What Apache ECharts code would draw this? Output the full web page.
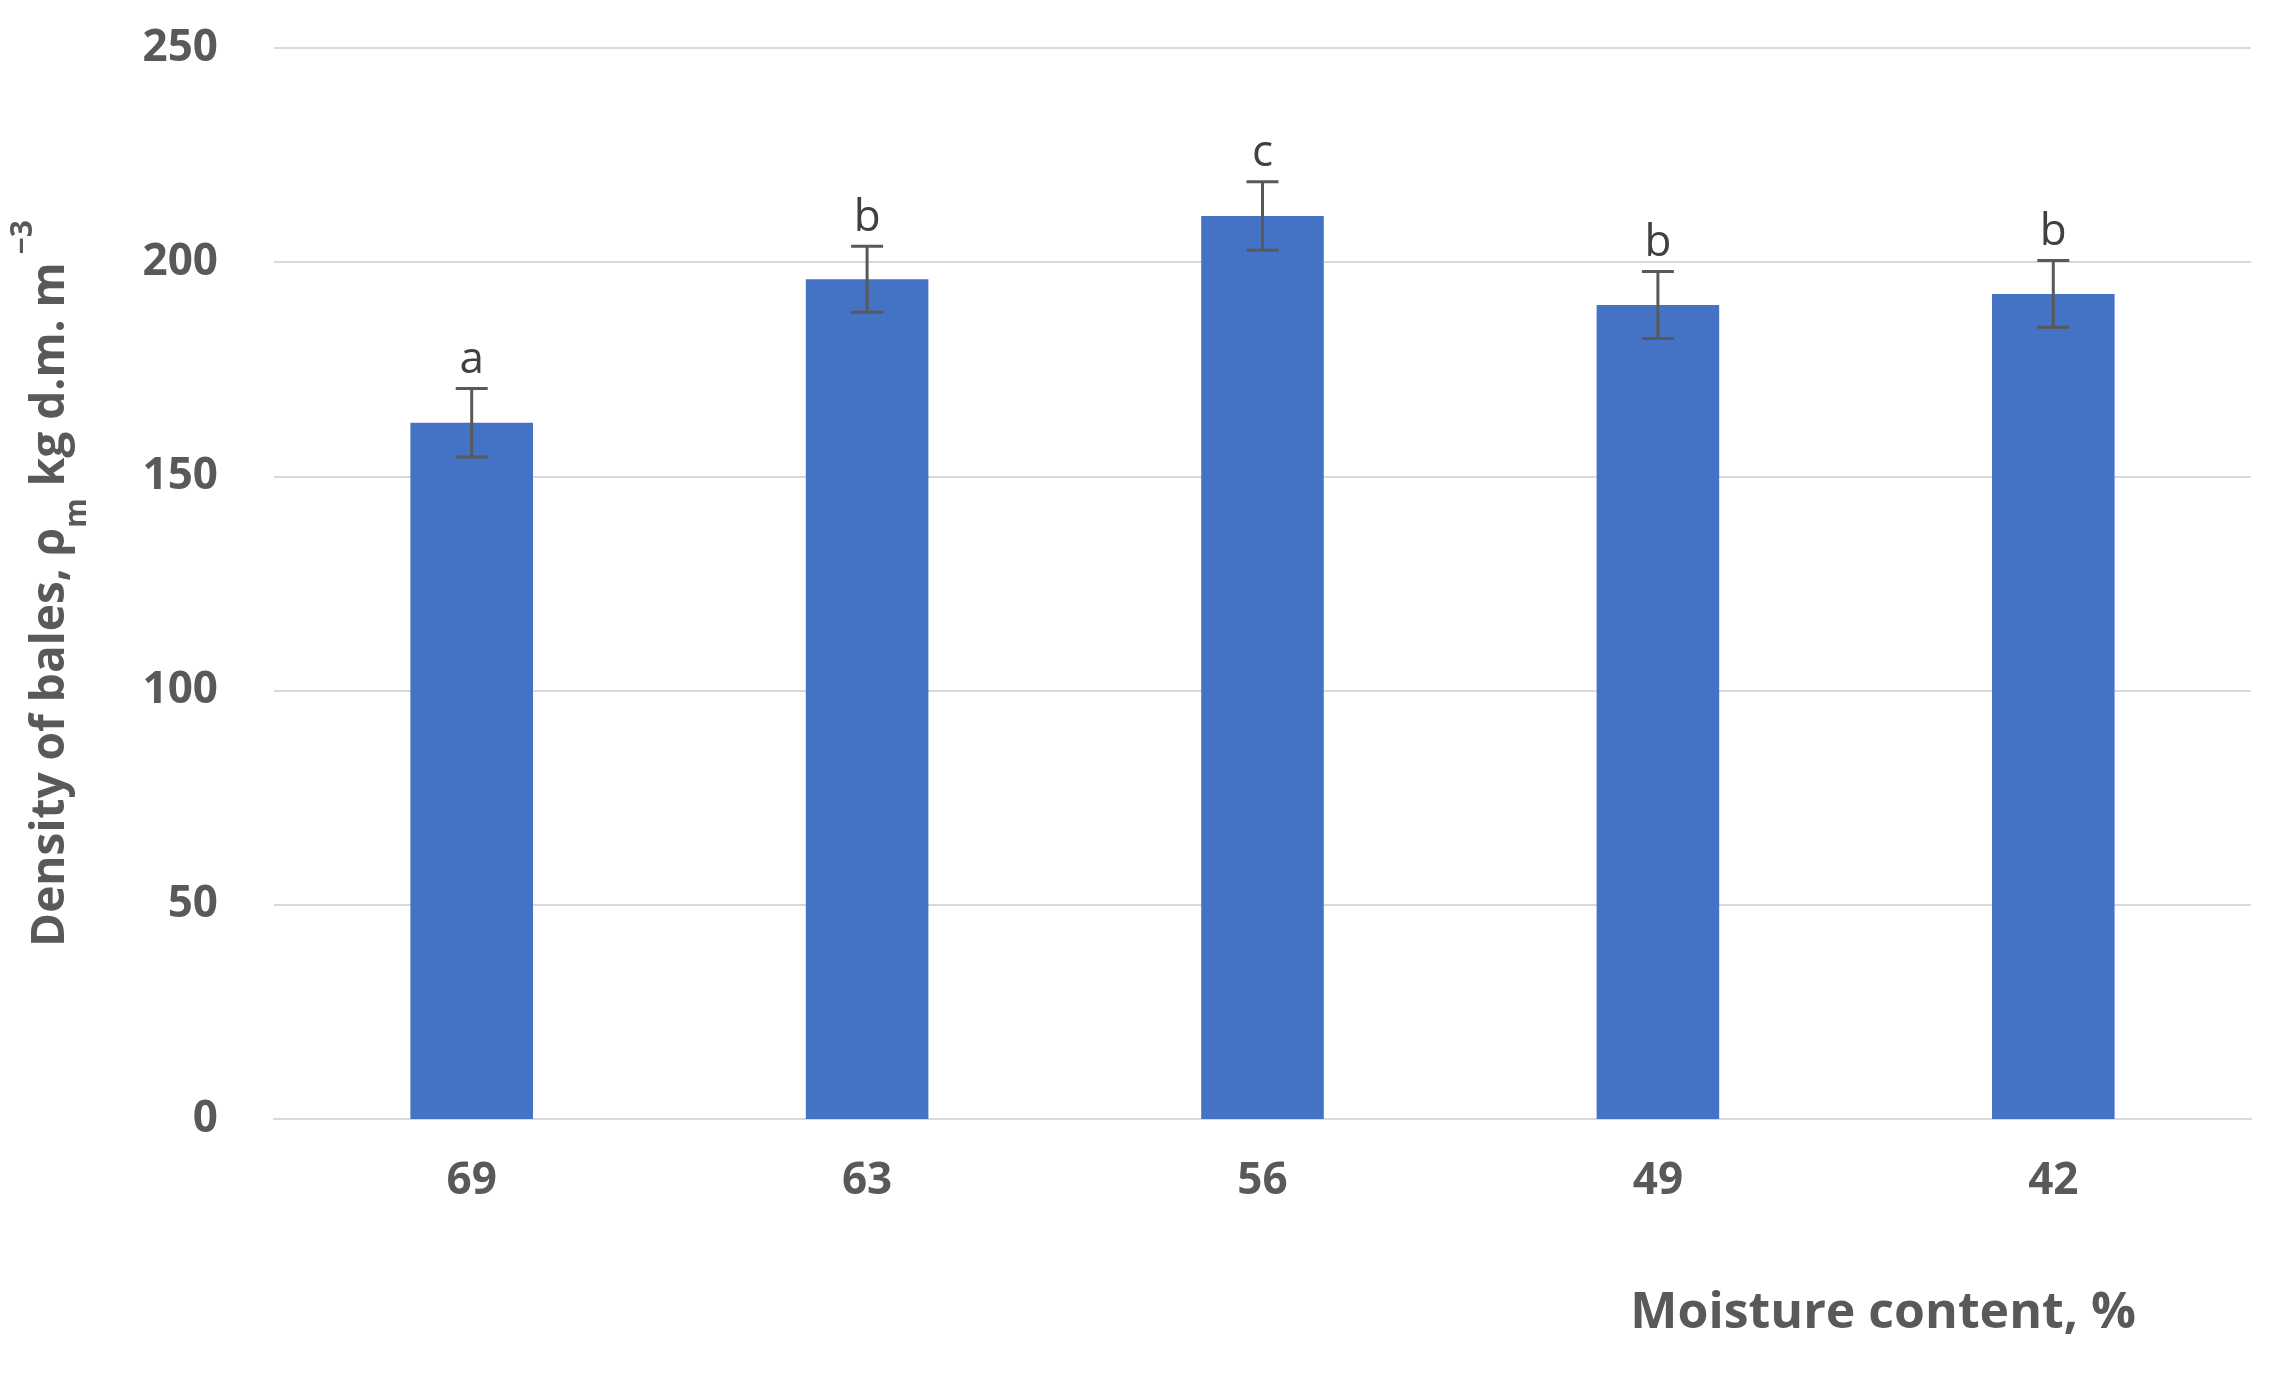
<!DOCTYPE html>
<html><head><meta charset="utf-8">
<script src="https://cdn.jsdelivr.net/npm/echarts@6/dist/echarts.min.js"></script>
<style>html,body{margin:0;padding:0;background:#fff}#c{width:2270px;height:1378px}</style>
</head><body><div id="c"></div>
<script>
const categories = ['69','63','56','49','42'];
const density = [162.5, 196, 210.8, 190, 192.6];
const errors = [8, 7.7, 8, 7.8, 7.8];
const letters = ['a','b','c','b','b'];
const yTicks = [0,50,100,150,200,250];

const chart = echarts.init(document.getElementById('c'));
const grey = '#595959';
chart.setOption({
  animation:false,
  grid:{left:261,right:19,top:48,bottom:259},
  xAxis:{type:'category',data:categories,
    axisLine:{lineStyle:{color:'#d9d9d9',width:2}},axisTick:{show:false},
    axisLabel:{color:grey,fontWeight:'bold',fontSize:44,fontFamily:'Open Sans',margin:40},
    name:'Moisture content, %',nameLocation:'end',
    nameTextStyle:{color:grey,fontWeight:'bold',fontSize:50,fontFamily:'Open Sans',align:'right',verticalAlign:'top',padding:[170,130,0,0]}},
  yAxis:{type:'value',min:yTicks[0],max:yTicks[yTicks.length-1],interval:50,
    splitLine:{lineStyle:{color:'#d9d9d9',width:2}},axisLine:{show:false},axisTick:{show:false},
    axisLabel:{color:grey,fontWeight:'bold',fontSize:44,fontFamily:'Open Sans',margin:56},
    name:'{t|Density of bales, ρ}{s|m}{t| kg d.m. m}{p| −3}',nameLocation:'middle',nameRotate:90,nameGap:200,
    nameTextStyle:{rich:{
      t:{color:grey,fontWeight:'bold',fontSize:46,fontFamily:'Open Sans'},
      s:{color:grey,fontWeight:'bold',fontSize:30,fontFamily:'Open Sans',verticalAlign:'bottom',padding:[0,0,-18,0]},
      p:{color:grey,fontWeight:'bold',fontSize:30,fontFamily:'Open Sans',verticalAlign:'top',padding:[-20,0,0,0]}}}},
  series:[
    {type:'bar',data:density,barWidth:'31%',itemStyle:{color:'#4472c4'}},
    {type:'custom',data:density.map((v,i)=>[i,v,errors[i]]),z:10,
      renderItem:(params,api)=>{
        const i=api.value(0),v=api.value(1),e=api.value(2);
        const top=api.coord([i,v+e]),bot=api.coord([i,v-e]);
        const x=top[0],hw=16;
        const st={stroke:grey,lineWidth:3};
        return {type:'group',children:[
          {type:'line',shape:{x1:x,y1:top[1],x2:x,y2:bot[1]},style:st},
          {type:'line',shape:{x1:x-hw,y1:top[1],x2:x+hw,y2:top[1]},style:st},
          {type:'line',shape:{x1:x-hw,y1:bot[1],x2:x+hw,y2:bot[1]},style:st},
          {type:'text',style:{text:letters[params.dataIndex],x:x,y:top[1]-6,align:'center',verticalAlign:'bottom',
            fill:'#404040',fontSize:44,fontFamily:'Open Sans'}}
        ]};
      }}
  ]
});
</script></body></html>
